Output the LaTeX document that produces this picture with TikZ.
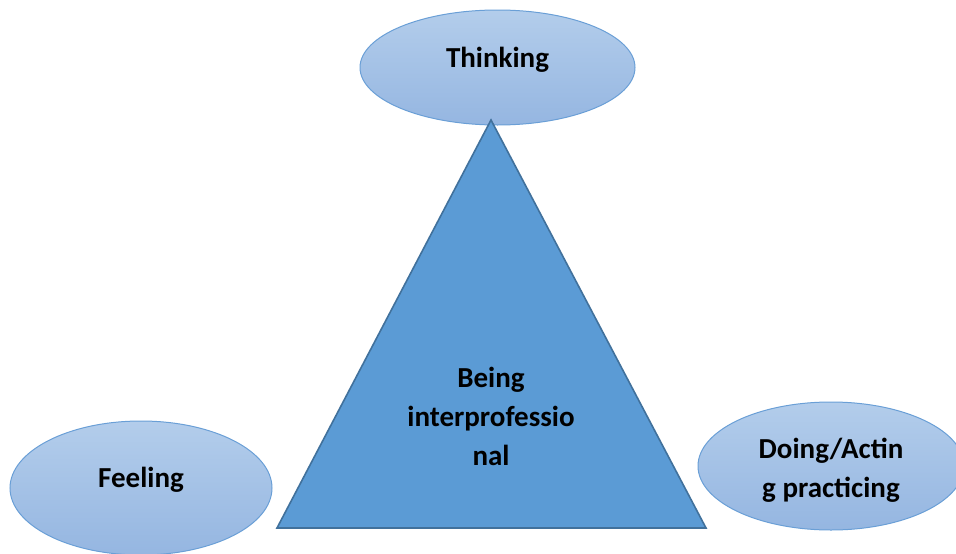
\documentclass[tikz,border=0pt]{standalone}
\usepackage{fontspec}
\setmainfont{Carlito}
\usetikzlibrary{positioning,shapes.geometric}
\definecolor{bubbletop}{HTML}{B3CDEB}
\definecolor{bubblebot}{HTML}{95B6E1}
\definecolor{bubbleline}{HTML}{6A9FD6}
\definecolor{trifill}{HTML}{5B9BD5}
\definecolor{triline}{HTML}{41719C}

\begin{document}
\begin{tikzpicture}[x=1pt, y=-1pt,
            bubble/.style={ellipse, draw=bubbleline, line width=1pt, top color=bubbletop, bottom color=bubblebot, inner sep=0pt},
            caption/.style={font=\fontsize{29}{39}\selectfont\bfseries, align=center, text=black},
        ]
        \useasboundingbox (0,0) rectangle (956,554);

        % the three outer ellipses
        \node[bubble, minimum width=275pt, minimum height=115pt] (thinking) at (497.5,67.5) {};
        \node[bubble, minimum width=262pt, minimum height=134pt] (feeling) at (141,488) {};
        \node[bubble, minimum width=266pt, minimum height=128pt] (doing) at (831,466) {};

        % the triangle in the middle
        \coordinate (apex) at (491,120);
        \coordinate (baseleft) at (277,528);
        \coordinate (baseright) at (706,528);
        \draw[triline, line width=1.6pt, fill=trifill] (apex) -- (baseleft) -- (baseright) -- cycle;

        % labels
        \node[caption] (thinktext) at ([yshift=8pt]thinking.center) {Thinking};
        \node[caption] (feeltext) at ([yshift=8pt]feeling.center) {Feeling};
        \node[caption] (doingtext) at ([yshift=-4pt]doing.center) {Doing/Actin\\g practicing};
        \node[caption] (being) at (491,416) {Being\\interprofessio\\nal};
    \end{tikzpicture}
\end{document}
